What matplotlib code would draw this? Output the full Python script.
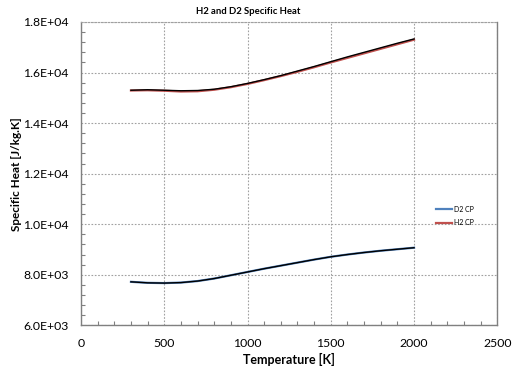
import matplotlib
matplotlib.use("Agg")
import matplotlib.pyplot as plt
from matplotlib.ticker import MultipleLocator, FuncFormatter

plt.rcParams['font.family'] = ['Lato', 'DejaVu Sans']

temperature = [300, 400, 500, 600, 700, 800, 900, 1000, 1100, 1200,
               1300, 1400, 1500, 1600, 1700, 1800, 1900, 2000]
d2_cp = [7720, 7680, 7670, 7690, 7750, 7850, 7980, 8110, 8240, 8360,
         8480, 8600, 8710, 8800, 8880, 8950, 9010, 9070]
h2_cp = [15290, 15300, 15280, 15250, 15260, 15320, 15420, 15550, 15700, 15860,
         16030, 16210, 16400, 16580, 16760, 16940, 17120, 17300]
# black overlay curves (reference data drawn on top, no legend entry)
d2_ref = [7720, 7680, 7670, 7690, 7750, 7850, 7980, 8110, 8240, 8360,
          8480, 8600, 8710, 8800, 8880, 8950, 9010, 9070]
h2_ref = [15300, 15320, 15300, 15280, 15290, 15340, 15440, 15570, 15720, 15880,
          16060, 16240, 16430, 16620, 16800, 16980, 17160, 17330]

fig = plt.figure(figsize=(5.15, 3.72), dpi=100)
ax = fig.add_axes([81/515, 1-325.3/372, (497.3-81)/515, (325.3-22)/372])

ax.plot(temperature, d2_cp, color='#4F81BD', lw=1.6, label='D2 CP', zorder=3)
ax.plot(temperature, h2_cp, color='#C0504D', lw=1.6, label='H2 CP', zorder=3)
ax.plot(temperature, d2_ref, color='black', lw=1.0, zorder=4)
ax.plot(temperature, h2_ref, color='black', lw=1.0, zorder=4)

ax.set_xlim(0, 2500)
ax.set_ylim(6000, 18000)
ax.xaxis.set_major_locator(MultipleLocator(500))
ax.xaxis.set_minor_locator(MultipleLocator(100))
ax.yaxis.set_major_locator(MultipleLocator(2000))
ax.yaxis.set_minor_locator(MultipleLocator(400))
ax.yaxis.set_major_formatter(FuncFormatter(lambda v, p: "%.1fE+%02d" % (v / 10**len(str(int(v))[1:]), len(str(int(v))) - 1)))
ax.tick_params(which='both', direction='in', colors='#808080', labelcolor='black', labelsize=8.8)
ax.tick_params(which='major', length=0)
ax.tick_params(which='minor', length=3, width=0.8)
ax.tick_params(axis='y', which='major', pad=9)
ax.tick_params(axis='x', which='major', pad=9)

ax.grid(True, which='major', color='#A0A0A0', linestyle=(0, (1.5, 1.5)), linewidth=0.8)
for s in ['left', 'bottom', 'right']:
    ax.spines[s].set_color('#808080')
    ax.spines[s].set_linewidth(1.0)
ax.spines['top'].set_color('#A0A0A0')
ax.spines['top'].set_linestyle((0, (1.5, 1.5)))
ax.spines['top'].set_linewidth(0.8)

ax.set_xlabel('Temperature [K]', fontsize=9, fontweight='bold', labelpad=3)
ax.set_ylabel('Specific Heat [J/kg.K]', fontsize=8.5, fontweight='bold', labelpad=1)
fig.text(248/515, 1-12/372, 'H2 and D2 Specific Heat', fontsize=6.8, fontweight='bold',
         ha='center', va='center')

leg = ax.legend(loc='center left', bbox_to_anchor=((430-81)/416.3, 1-(216-22)/303.3),
                frameon=False, fontsize=5, handlelength=2.2, handletextpad=0.3,
                labelspacing=0.9)

fig.savefig('out.png', dpi=100)
